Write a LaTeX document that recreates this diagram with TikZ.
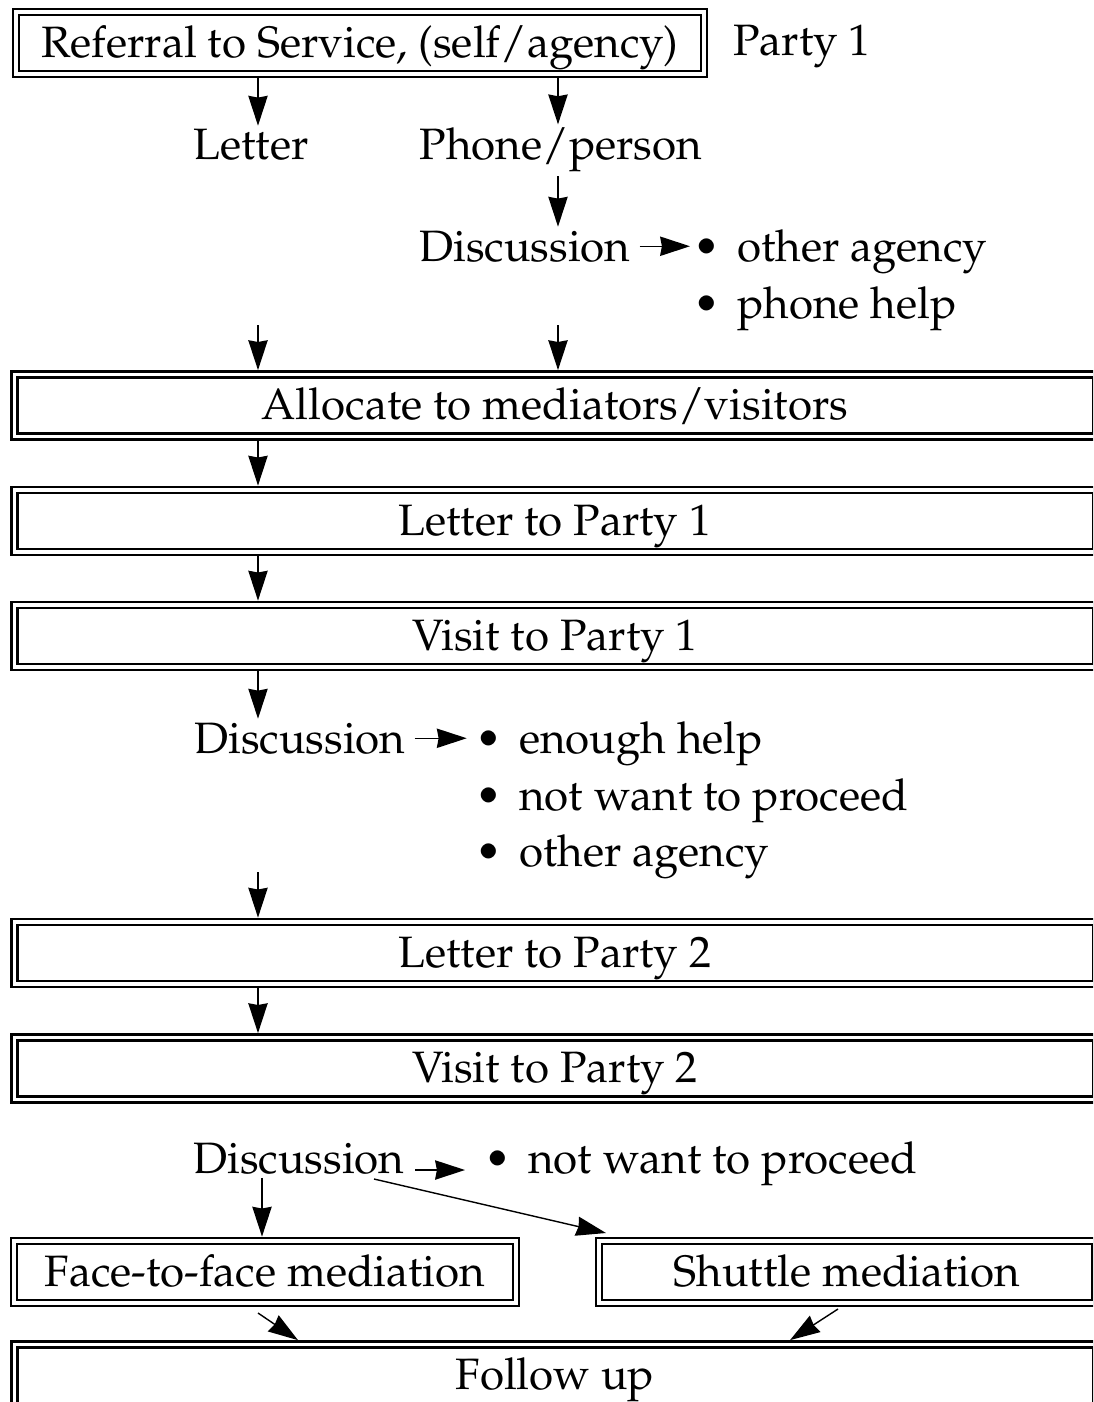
\documentclass[tikz,border=0pt]{standalone}
\usepackage[T1]{fontenc}
\usepackage{mathpazo}
\usetikzlibrary{arrows.meta}

\newcommand{\flowfont}{\fontsize{25}{30}\selectfont}
\newcommand{\blt}{\textbullet\hspace{0.38em}}

\begin{document}
\begin{tikzpicture}[x=0.02cm, y=-0.02cm,
    box/.style={draw, double, line width=1.6pt, double distance=1.8pt,
      outer sep=2.5pt, inner sep=0pt, minimum height=1.24cm,
      text height=19pt, text depth=3pt, font=\flowfont},
    wide/.style={box, minimum width=21.64cm},
    lbl/.style={inner sep=2pt, font=\flowfont},
    arr/.style={-{Stealth[length=17pt, width=11pt, inset=1pt]}, line width=0.8pt}
    ]
    \path[use as bounding box, clip] (0,0) rectangle (1093,1402);

    % referral
    \node[box, minimum width=13.76cm] (ref) at (360,43) {Referral to Service, (self/agency)};
    \node[lbl, anchor=base] (party) at (802,56) {Party 1};
    \node[lbl, anchor=base] (letter) at (251,160) {Letter};
    \node[lbl, anchor=base] (phone) at (561,160) {Phone/person};
    \node[lbl, anchor=base] (disc1) at (525,261) {Discussion};
    \node[lbl, anchor=base west] (other1) at (690,261) {\blt other agency};
    \node[lbl, anchor=base west] (phonehelp) at (690,318) {\blt phone help};

    % allocation and first party
    \node[wide] (alloc) at (555,405.5) {Allocate to mediators/visitors};
    \node[wide] (lp1) at (555,521) {Letter to Party 1};
    \node[wide] (vp1) at (555,636) {Visit to Party 1};
    \node[lbl, anchor=base] (disc2) at (300,753) {Discussion};
    \node[lbl, anchor=base west] (enough) at (472,753) {\blt enough help};
    \node[lbl, anchor=base west] (notwant1) at (472,810) {\blt not want to proceed};
    \node[lbl, anchor=base west] (other2) at (472,866) {\blt other agency};

    % second party
    \node[wide] (lp2) at (555,953) {Letter to Party 2};
    \node[wide] (vp2) at (555,1068.5) {Visit to Party 2};
    \node[lbl, anchor=base] (disc3) at (299,1173) {Discussion};
    \node[lbl, anchor=base west] (notwant2) at (481,1173) {\blt not want to proceed};

    % mediation
    \node[box, minimum width=10.04cm] (face) at (265,1272) {Face-to-face mediation};
    \node[box, minimum width=9.92cm] (shuttle) at (847,1272) {Shuttle mediation};
    \node[wide] (follow) at (555,1375.5) {Follow up};

    \coordinate (colL) at (258,0);
    \coordinate (colR) at (558,0);
    \coordinate (colD) at (262,0);
    \coordinate (in1L) at (258,325);
    \coordinate (in1R) at (558,325);
    \coordinate (in2) at (258,872);
    \coordinate (out3a) at (415,1170);
    \coordinate (out3b) at (465,1170);
    \coordinate (out3c) at (374,1179);
    \coordinate (shutin) at (606,1233);
    \coordinate (faceout) at (258,1313);
    \coordinate (shutout) at (838,1309);
    \coordinate (folL) at (298,0);
    \coordinate (folR) at (790,0);

    \draw[arr] (ref.south -| colL) -- (letter.north -| colL);
    \draw[arr] (ref.south -| colR) -- (phone.north -| colR);
    \draw[arr] (phone.south -| colR) -- (disc1.north -| colR);
    \draw[arr, shorten <=3pt] (disc1.east) -- (disc1.east -| other1.west);
    \draw[arr] (in1L) -- (alloc.north -| in1L);
    \draw[arr] (in1R) -- (alloc.north -| in1R);
    \draw[arr] (alloc.south -| colL) -- (lp1.north -| colL);
    \draw[arr] (lp1.south -| colL) -- (vp1.north -| colL);
    \draw[arr] (vp1.south -| colL) -- (disc2.north -| colL);
    \draw[arr, shorten <=3pt, shorten >=3pt] (disc2.east) -- (disc2.east -| enough.west);
    \draw[arr] (in2) -- (lp2.north -| in2);
    \draw[arr] (lp2.south -| colL) -- (vp2.north -| colL);
    \draw[arr] (out3a) -- (out3b);
    \draw[arr] (disc3.south -| colD) -- (face.north -| colD);
    \draw[arr] (out3c) -- (shutin);
    \draw[arr] (faceout) -- (follow.north -| folL);
    \draw[arr] (shutout) -- (follow.north -| folR);
\end{tikzpicture}
\end{document}
